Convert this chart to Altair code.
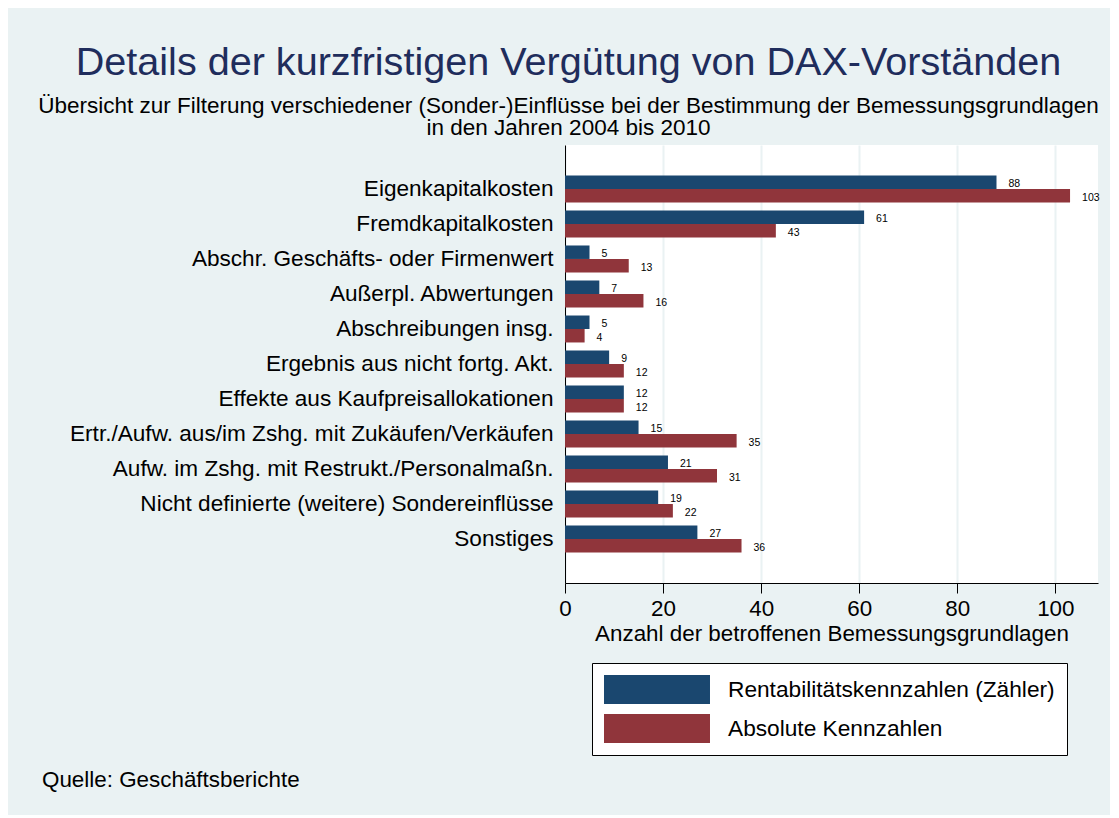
import altair as alt
import pandas as pd

FONT = "Liberation Sans"

categories = [
    "Eigenkapitalkosten",
    "Fremdkapitalkosten",
    "Abschr. Geschäfts- oder Firmenwert",
    "Außerpl. Abwertungen",
    "Abschreibungen insg.",
    "Ergebnis aus nicht fortg. Akt.",
    "Effekte aus Kaufpreisallokationen",
    "Ertr./Aufw. aus/im Zshg. mit Zukäufen/Verkäufen",
    "Aufw. im Zshg. mit Restrukt./Personalmaßn.",
    "Nicht definierte (weitere) Sondereinflüsse",
    "Sonstiges",
]
rentab = [88, 61, 5, 7, 5, 9, 12, 15, 21, 19, 27]
absolut = [103, 43, 13, 16, 4, 12, 12, 35, 31, 22, 36]
series = ["Rentabilitätskennzahlen (Zähler)", "Absolute Kennzahlen"]
colors = ["#1a476f", "#90353b"]
x_ticks = [0, 20, 40, 60, 80, 100]

rows = []
for c, a, b in zip(categories, rentab, absolut):
    rows.append({"Kategorie": c, "Reihe": series[0], "Wert": a})
    rows.append({"Kategorie": c, "Reihe": series[1], "Wert": b})
df = pd.DataFrame(rows)

y_enc = alt.Y(
    "Kategorie:N",
    sort=categories,
    scale=alt.Scale(paddingInner=0.23, paddingOuter=0.87),
    axis=alt.Axis(
        title=None, ticks=False, labelFontSize=22.6, labelFont=FONT, labelPadding=12,
        labelColor="black", domainColor="black", domainWidth=1, labelLimit=700, grid=False,
    ),
)
yoff_enc = alt.YOffset("Reihe:N", sort=series, scale=alt.Scale(domain=series, paddingInner=0, paddingOuter=0))
x_enc = alt.X(
    "Wert:Q",
    scale=alt.Scale(domain=[0, 108.7], nice=False, zero=True),
    axis=alt.Axis(
        values=x_ticks, title="Anzahl der betroffenen Bemessungsgrundlagen",
        titleFontSize=22.4, titleFont=FONT, titleFontWeight="normal", titleColor="black",
        titlePadding=3, labelFontSize=22.4, labelFont=FONT, labelColor="black",
        labelPadding=4, labelFlush=False, tickSize=10, tickColor="black", tickWidth=1,
        domainColor="black", domainWidth=1, grid=True, gridColor="#eaf2f3", gridWidth=2,
    ),
)

base = alt.Chart(df)
bars = base.mark_bar().encode(
    y=y_enc,
    yOffset=yoff_enc,
    x=x_enc,
    color=alt.Color(
        "Reihe:N", sort=series,
        scale=alt.Scale(domain=series, range=colors),
        legend=alt.Legend(
            title=None, orient="none", legendX=27, legendY=518, direction="vertical",
            symbolType="M-1,-1H6.31V1H-1Z", symbolSize=841, symbolStrokeWidth=0,
            symbolOpacity=1, labelFontSize=22.7, labelFont=FONT, labelColor="black",
            labelOffset=95, rowPadding=10, padding=12, fillColor="white",
            strokeColor="black", labelLimit=600,
        ),
    ),
)
labels = base.mark_text(
    align="left", baseline="middle", dx=12, dy=2, fontSize=10.5, font=FONT, color="black"
).encode(y=y_enc, yOffset=yoff_enc, x=x_enc, text="Wert:Q")

foot_df = pd.DataFrame({"t": ["Quelle: Geschäftsberichte"]})
foot = alt.Chart(foot_df).mark_text(
    align="left", baseline="middle", fontSize=22.4, font=FONT, color="black"
).encode(text="t:N", x=alt.value(-523), y=alt.value(635))

chart = (
    alt.layer(bars, labels, foot)
    .properties(
        width=533,
        height=438,
        autosize=alt.AutoSizeParams(type="none"),
        padding={"left": 557, "top": 137, "right": 12, "bottom": 232},
        background="#eaf2f3",
        title=alt.TitleParams(
            text="Details der kurzfristigen Vergütung von DAX-Vorständen",
            subtitle=[
                "Übersicht zur Filterung verschiedener (Sonder-)Einflüsse bei der Bestimmung der Bemessungsgrundlagen",
                "in den Jahren 2004 bis 2010",
            ],
            fontSize=39.6, font=FONT, fontWeight="normal", color="#1f2d5c",
            subtitleFontSize=22.5, subtitleFont=FONT, subtitleColor="black",
            subtitleLineHeight=22, subtitlePadding=11,
            anchor="middle", dx=-263, offset=5,
        ),
    )
    .configure_view(fill="white", stroke=None)
)

chart.save("out.html", embed_options={"renderer": "svg", "actions": False})
